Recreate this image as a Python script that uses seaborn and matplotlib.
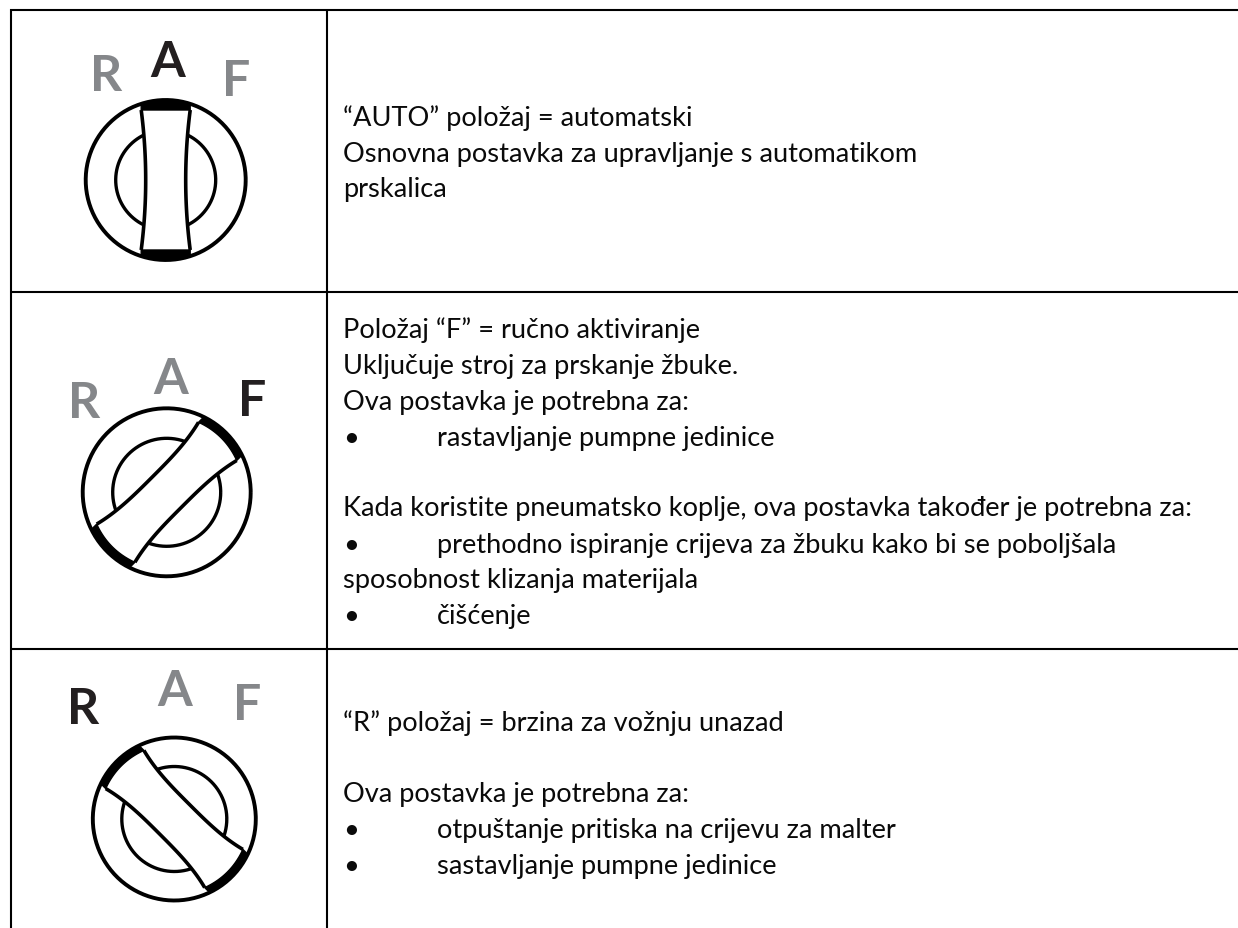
import numpy as np
import seaborn as sns
import matplotlib.pyplot as plt

# table rules
rule_rows = [11, 293, 650]
rule_cols = [10.5, 327]

# dial settings, one entry per row
dial_cx = [165.7, 166.7, 174.3]
dial_cy = [181, 493.3, 820]
dial_r = [80, 84, 81.5]
inner_r = [50, 54, 52.5]
dial_angle = [0, 45, -45]
grip_waist = [20, 21, 21]
grip_end = [24.5, 27, 27]
grip_reach = [70, 72, 70]
grip_power = [2, 3, 3]
cap_sag = [0, 5, 5]

# R A F letters on each dial
letters = ["R", "A", "F"]
letter_x = [[106.5, 167.5, 236.5], [84, 170.5, 252], [83.5, 174.5, 247.5]]
letter_y = [[91, 77, 96], [418, 394, 416], [724, 706, 720]]
active_letter = ["A", "F", "R"]

# text lines of the right column
lines = [
    "\u201cAUTO\u201d položaj = automatski",
    "Osnovna postavka za upravljanje s automatikom",
    "prskalica",
    "Položaj \u201cF\u201d = ručno aktiviranje",
    "Uključuje stroj za prskanje žbuke.",
    "Ova postavka je potrebna za:",
    "Kada koristite pneumatsko koplje, ova postavka također je potrebna za:",
    "sposobnost klizanja materijala",
    "\u201cR\u201d položaj = brzina za vožnju unazad",
    "Ova postavka je potrebna za:",
]
line_y = [126, 161.7, 196.7, 338, 374, 410, 516, 588, 730.7, 801.7]

bullets = [
    "rastavljanje pumpne jedinice",
    "prethodno ispiranje crijeva za žbuku kako bi se poboljšala",
    "čišćenje",
    "otpuštanje pritiska na crijevu za malter",
    "sastavljanje pumpne jedinice",
]
bullet_y = [446, 552.7, 624, 837.7, 874]

sns.set_theme(style="white")
plt.rcParams["font.family"] = ["Lato", "DejaVu Sans"]
fig, ax = plt.subplots(figsize=(12.38, 9.29), dpi=100)
fig.subplots_adjust(0, 0, 1, 1)


def draw(x, y, lw, z=2):
    sns.lineplot(x=x, y=y, sort=False, estimator=None, color="black",
                 linewidth=lw, zorder=z, solid_capstyle="butt", ax=ax)


for r in rule_rows:
    draw([rule_cols[0] - 1, 1238], [r, r], 1.5)
for c in rule_cols:
    draw([c, c], [rule_rows[0] - 1, 929], 1.5)


def to_page(u, v, cx, cy, angle):
    t = np.radians(angle)
    return cx + u * np.cos(t) + v * np.sin(t), cy + u * np.sin(t) - v * np.cos(t)


for i in range(3):
    cx, cy, r, ri = dial_cx[i], dial_cy[i], dial_r[i], inner_r[i]
    t = np.linspace(0, 2 * np.pi, 200)
    draw(cx + r * np.cos(t), cy + r * np.sin(t), 2.8, 2)
    draw(cx + ri * np.cos(t), cy + ri * np.sin(t), 2.4, 2)

    # grip: white body hides the inner ring, the sides flare to the rim
    reach = grip_reach[i]
    e = grip_end[i]
    v = np.linspace(-reach, reach, 80)
    w = grip_waist[i] + (e - grip_waist[i]) * np.abs(v / reach) ** grip_power[i]
    xl, yl = to_page(-w, v, cx, cy, dial_angle[i])
    xr, yr = to_page(w, v, cx, cy, dial_angle[i])
    ax.fill(np.r_[xl, xr[::-1]], np.r_[yl, yr[::-1]], color="white", zorder=3)
    draw(xl, yl, 2.6, 4)
    draw(xr, yr, 2.6, 4)

    # black caps between the grip end and the rim
    for s in [1, -1]:
        a = np.linspace(-np.arcsin(e / r), np.arcsin(e / r), 30)
        u_in = np.linspace(e, -e, 30)
        v_in = reach + cap_sag[i] * (1 - (u_in / e) ** 2)
        u_cap = np.r_[r * np.sin(a), u_in]
        v_cap = np.r_[r * np.cos(a), v_in] * s
        xc, yc = to_page(u_cap, v_cap, cx, cy, dial_angle[i])
        ax.fill(xc, yc, color="black", zorder=5, lw=1)

    for j, name in enumerate(letters):
        col = "#231f20" if name == active_letter[i] else "#85878a"
        ax.text(letter_x[i][j], letter_y[i][j], name, color=col, fontsize=36,
                fontweight="bold", ha="center", va="baseline")

for txt, y in zip(lines, line_y):
    ax.text(342.7, y, txt, fontsize=19.6, color="#0a0a0a", va="baseline")
for txt, y in zip(bullets, bullet_y):
    ax.text(342.7, y, "\u2022", fontsize=19.6, color="#0a0a0a", va="baseline")
    ax.text(436.7, y, txt, fontsize=19.6, color="#0a0a0a", va="baseline")

ax.set_xlim(0, 1238)
ax.set_ylim(929, 0)
ax.set_axis_off()
fig.savefig("out.png", dpi=100)
